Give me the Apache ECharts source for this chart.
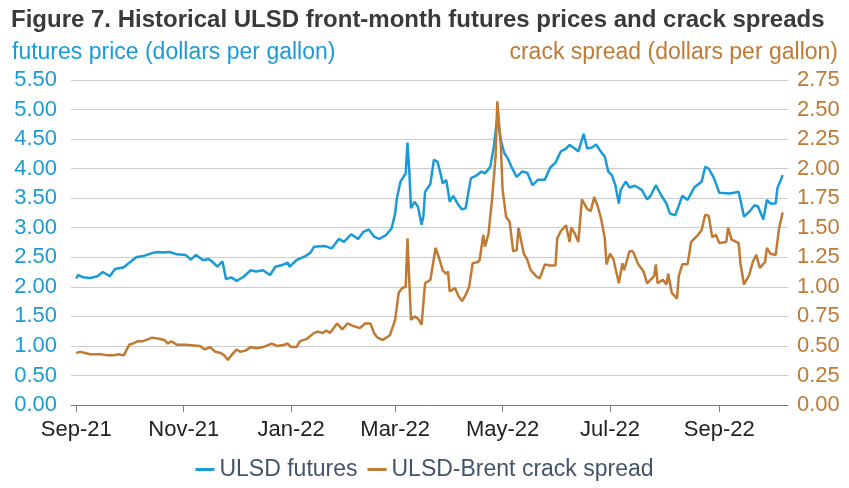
<!DOCTYPE html>
<html>
<head>
<meta charset="utf-8">
<title>ULSD futures and crack spreads</title>
<script src="https://cdn.jsdelivr.net/npm/echarts@6.0.0/dist/echarts.min.js"></script>
<style>
  html, body { margin: 0; padding: 0; background: #fff; }
  #chart { width: 849px; height: 488px; }
</style>
</head>
<body>
<div id="chart"></div>
<script>
/* global echarts */
const FONT = '"Liberation Sans", Arial, sans-serif';
const BLUE = '#1a9bd7';
const ORANGE = '#c07a33';

// tick labels on the date axis (first of every other month)
const tickDates = ['2021-09-01', '2021-11-01', '2022-01-01', '2022-03-01', '2022-05-01', '2022-07-01', '2022-09-01'];
const monthNames = ['Jan', 'Feb', 'Mar', 'Apr', 'May', 'Jun', 'Jul', 'Aug', 'Sep', 'Oct', 'Nov', 'Dec'];
const axisStart = '2021-08-29';
const axisEnd = '2022-10-10';

// ULSD front-month futures, dollars per gallon
const futuresDates = [
  '2021-09-01', '2021-09-02', '2021-09-05', '2021-09-09', '2021-09-13', '2021-09-16', '2021-09-20', '2021-09-23',
  '2021-09-28', '2021-10-02', '2021-10-05', '2021-10-09', '2021-10-14', '2021-10-17', '2021-10-20', '2021-10-24',
  '2021-10-28', '2021-11-02', '2021-11-05', '2021-11-08', '2021-11-12', '2021-11-15', '2021-11-17', '2021-11-20',
  '2021-11-23', '2021-11-25', '2021-11-28', '2021-12-01', '2021-12-05', '2021-12-09', '2021-12-12', '2021-12-16',
  '2021-12-20', '2021-12-23', '2021-12-27', '2021-12-30', '2021-12-31', '2022-01-04', '2022-01-09', '2022-01-12',
  '2022-01-14', '2022-01-20', '2022-01-24', '2022-01-28', '2022-01-31', '2022-02-04', '2022-02-08', '2022-02-11',
  '2022-02-14', '2022-02-17', '2022-02-20', '2022-02-24', '2022-02-27', '2022-03-01', '2022-03-02', '2022-03-04',
  '2022-03-07', '2022-03-08', '2022-03-09', '2022-03-10', '2022-03-12', '2022-03-14', '2022-03-16', '2022-03-17',
  '2022-03-18', '2022-03-21', '2022-03-23', '2022-03-25', '2022-03-27', '2022-03-28', '2022-03-30', '2022-04-01',
  '2022-04-03', '2022-04-06', '2022-04-08', '2022-04-10', '2022-04-13', '2022-04-16', '2022-04-19', '2022-04-21',
  '2022-04-24', '2022-04-26', '2022-04-28', '2022-04-30', '2022-05-02', '2022-05-04', '2022-05-06', '2022-05-09',
  '2022-05-12', '2022-05-15', '2022-05-18', '2022-05-21', '2022-05-25', '2022-05-28', '2022-05-31', '2022-06-03',
  '2022-06-06', '2022-06-08', '2022-06-11', '2022-06-13', '2022-06-16', '2022-06-18', '2022-06-21', '2022-06-23',
  '2022-06-25', '2022-06-28', '2022-06-30', '2022-07-02', '2022-07-04', '2022-07-06', '2022-07-07', '2022-07-10',
  '2022-07-12', '2022-07-15', '2022-07-19', '2022-07-22', '2022-07-24', '2022-07-27', '2022-07-30', '2022-08-02',
  '2022-08-04', '2022-08-07', '2022-08-11', '2022-08-14', '2022-08-18', '2022-08-22', '2022-08-24', '2022-08-26',
  '2022-08-29', '2022-09-01', '2022-09-07', '2022-09-08', '2022-09-12', '2022-09-15', '2022-09-18', '2022-09-21',
  '2022-09-23', '2022-09-26', '2022-09-28', '2022-09-30', '2022-10-03', '2022-10-04', '2022-10-07'
];
const futuresValues = [
  2.14, 2.20, 2.16, 2.15, 2.18, 2.25, 2.18, 2.30,
  2.33, 2.43, 2.50, 2.52, 2.57, 2.59, 2.58, 2.59,
  2.55, 2.54, 2.46, 2.54, 2.45, 2.47, 2.43, 2.34,
  2.43, 2.13, 2.16, 2.10, 2.17, 2.28, 2.26, 2.28,
  2.20, 2.34, 2.37, 2.41, 2.34, 2.45, 2.52, 2.58,
  2.68, 2.69, 2.65, 2.81, 2.76, 2.89, 2.81, 2.93,
  2.97, 2.85, 2.81, 2.88, 2.99, 3.24, 3.50, 3.78,
  3.92, 4.44, 3.98, 3.33, 3.44, 3.35, 3.05, 3.19,
  3.61, 3.74, 4.15, 4.12, 3.89, 3.75, 3.81, 3.44,
  3.54, 3.38, 3.31, 3.33, 3.84, 3.88, 3.95, 3.92,
  4.03, 4.37, 4.88, 4.48, 4.26, 4.17, 4.03, 3.86,
  3.95, 3.93, 3.72, 3.81, 3.81, 4.02, 4.10, 4.29,
  4.34, 4.40, 4.34, 4.29, 4.59, 4.34, 4.36, 4.41,
  4.32, 4.20, 3.95, 3.89, 3.72, 3.41, 3.64, 3.78,
  3.68, 3.71, 3.64, 3.48, 3.54, 3.72, 3.55, 3.41,
  3.24, 3.21, 3.54, 3.47, 3.69, 3.78, 4.03, 4.00,
  3.84, 3.59, 3.58, 3.61, 3.61, 3.19, 3.27, 3.38,
  3.36, 3.14, 3.47, 3.41, 3.41, 3.67, 3.89
];

// ULSD-Brent crack spread, dollars per gallon
const crackDates = [
  '2021-09-01', '2021-09-03', '2021-09-06', '2021-09-09', '2021-09-15', '2021-09-19', '2021-09-22', '2021-09-25',
  '2021-09-28', '2021-10-01', '2021-10-03', '2021-10-06', '2021-10-09', '2021-10-14', '2021-10-18', '2021-10-21',
  '2021-10-23', '2021-10-25', '2021-10-28', '2021-11-02', '2021-11-10', '2021-11-13', '2021-11-16', '2021-11-19',
  '2021-11-22', '2021-11-24', '2021-11-26', '2021-11-28', '2021-12-01', '2021-12-03', '2021-12-06', '2021-12-09',
  '2021-12-12', '2021-12-16', '2021-12-21', '2021-12-24', '2021-12-28', '2021-12-30', '2022-01-01', '2022-01-04',
  '2022-01-06', '2022-01-10', '2022-01-14', '2022-01-16', '2022-01-19', '2022-01-21', '2022-01-23', '2022-01-27',
  '2022-01-30', '2022-02-02', '2022-02-05', '2022-02-09', '2022-02-12', '2022-02-15', '2022-02-17', '2022-02-19',
  '2022-02-22', '2022-02-26', '2022-03-01', '2022-03-03', '2022-03-05', '2022-03-07', '2022-03-08', '2022-03-09',
  '2022-03-10', '2022-03-12', '2022-03-14', '2022-03-16', '2022-03-17', '2022-03-18', '2022-03-21', '2022-03-24',
  '2022-03-26', '2022-03-28', '2022-03-30', '2022-03-31', '2022-04-01', '2022-04-04', '2022-04-06', '2022-04-08',
  '2022-04-10', '2022-04-12', '2022-04-14', '2022-04-17', '2022-04-18', '2022-04-20', '2022-04-21', '2022-04-23',
  '2022-04-25', '2022-04-27', '2022-04-28', '2022-04-30', '2022-05-01', '2022-05-03', '2022-05-05', '2022-05-07',
  '2022-05-09', '2022-05-10', '2022-05-13', '2022-05-15', '2022-05-17', '2022-05-20', '2022-05-22', '2022-05-25',
  '2022-05-28', '2022-05-31', '2022-06-01', '2022-06-03', '2022-06-06', '2022-06-08', '2022-06-09', '2022-06-11',
  '2022-06-13', '2022-06-15', '2022-06-18', '2022-06-20', '2022-06-22', '2022-06-24', '2022-06-26', '2022-06-28',
  '2022-06-29', '2022-07-01', '2022-07-03', '2022-07-04', '2022-07-06', '2022-07-08', '2022-07-09', '2022-07-12',
  '2022-07-14', '2022-07-17', '2022-07-20', '2022-07-22', '2022-07-23', '2022-07-26', '2022-07-27', '2022-07-28',
  '2022-07-31', '2022-08-02', '2022-08-03', '2022-08-05', '2022-08-08', '2022-08-09', '2022-08-11', '2022-08-14',
  '2022-08-16', '2022-08-18', '2022-08-20', '2022-08-22', '2022-08-24', '2022-08-26', '2022-08-28', '2022-08-30',
  '2022-09-01', '2022-09-05', '2022-09-06', '2022-09-08', '2022-09-12', '2022-09-13', '2022-09-15', '2022-09-18',
  '2022-09-20', '2022-09-22', '2022-09-24', '2022-09-27', '2022-09-28', '2022-09-30', '2022-10-03', '2022-10-05',
  '2022-10-07'
];
const crackValues = [
  0.44, 0.45, 0.44, 0.43, 0.43, 0.42, 0.42, 0.43,
  0.42, 0.51, 0.52, 0.54, 0.54, 0.57, 0.56, 0.55,
  0.52, 0.54, 0.51, 0.51, 0.50, 0.47, 0.49, 0.45,
  0.44, 0.42, 0.38, 0.42, 0.47, 0.45, 0.46, 0.49,
  0.48, 0.49, 0.52, 0.50, 0.51, 0.52, 0.49, 0.49,
  0.54, 0.56, 0.61, 0.62, 0.61, 0.63, 0.61, 0.69,
  0.64, 0.69, 0.67, 0.65, 0.69, 0.69, 0.61, 0.57,
  0.55, 0.59, 0.72, 0.95, 0.99, 1.00, 1.41, 1.06,
  0.72, 0.75, 0.73, 0.68, 0.86, 1.03, 1.06, 1.33,
  1.24, 1.14, 1.11, 1.13, 0.96, 0.99, 0.92, 0.88,
  0.93, 1.00, 1.20, 1.21, 1.23, 1.44, 1.34, 1.45,
  1.74, 2.10, 2.57, 2.19, 1.82, 1.59, 1.55, 1.30,
  1.31, 1.50, 1.28, 1.23, 1.14, 1.09, 1.07, 1.19,
  1.18, 1.18, 1.41, 1.47, 1.52, 1.38, 1.50, 1.45,
  1.38, 1.74, 1.66, 1.64, 1.76, 1.68, 1.57, 1.41,
  1.19, 1.28, 1.23, 1.16, 1.03, 1.20, 1.14, 1.30,
  1.30, 1.19, 1.13, 1.03, 1.03, 1.09, 1.19, 1.03,
  1.06, 1.02, 1.11, 0.95, 0.90, 1.09, 1.19, 1.19,
  1.38, 1.41, 1.44, 1.48, 1.61, 1.60, 1.42, 1.44,
  1.37, 1.38, 1.50, 1.40, 1.37, 1.20, 1.02, 1.10,
  1.21, 1.27, 1.16, 1.21, 1.33, 1.28, 1.27, 1.50,
  1.63
];

function toTime(s) {
  return new Date(s + 'T00:00:00Z').getTime();
}

function pairs(dates, values) {
  return dates.map((d, i) => [toTime(d), values[i]]);
}

function monthLabel(val) {
  const d = new Date(val);
  return monthNames[d.getUTCMonth()] + '-' + String(d.getUTCFullYear()).slice(2);
}

const tickTimes = tickDates.map(toTime);

const chart = echarts.init(document.getElementById('chart'), null, { renderer: 'canvas' });

chart.setOption({
  animation: false,
  textStyle: { fontFamily: FONT },
  title: [
    {
      text: 'Figure 7. Historical ULSD front-month futures prices and crack spreads',
      left: 11, top: 8, padding: 0,
      textStyle: { fontFamily: FONT, fontSize: 24, fontWeight: 'bold', color: '#3a3a3a' }
    },
    {
      text: 'futures price (dollars per gallon)',
      left: 12, top: 41, padding: 0,
      textStyle: { fontFamily: FONT, fontSize: 23, fontWeight: 'normal', color: BLUE }
    },
    {
      text: 'crack spread (dollars per gallon)',
      right: 11, top: 41, padding: 0,
      textStyle: { fontFamily: FONT, fontSize: 23, fontWeight: 'normal', color: ORANGE }
    }
  ],
  legend: {
    bottom: 2,
    left: 'center',
    icon: 'rect',
    itemWidth: 19,
    itemHeight: 3,
    itemGap: 10,
    textStyle: { fontFamily: FONT, fontSize: 23, color: '#44546a' },
    data: ['ULSD futures', 'ULSD-Brent crack spread']
  },
  grid: { left: 71, right: 61, top: 80, bottom: 83, containLabel: false },
  xAxis: {
    type: 'value',
    min: toTime(axisStart),
    max: toTime(axisEnd),
    axisLine: { lineStyle: { color: '#7a7a7a', width: 1 } },
    axisTick: {
      show: true, inside: false, length: 7,
      customValues: tickTimes,
      lineStyle: { color: '#7a7a7a' }
    },
    axisLabel: {
      customValues: tickTimes,
      formatter: monthLabel,
      color: '#222',
      fontFamily: FONT,
      fontSize: 22,
      margin: 14,
      showMinLabel: true,
      showMaxLabel: true
    },
    splitLine: { show: false }
  },
  yAxis: [
    {
      type: 'value',
      min: 0, max: 5.5, interval: 0.5,
      axisLine: { show: false },
      axisTick: { show: false },
      axisLabel: {
        color: BLUE, fontFamily: FONT, fontSize: 22, margin: 14,
        formatter: v => v.toFixed(2)
      },
      splitLine: { lineStyle: { color: '#cccccc', width: 1 } }
    },
    {
      type: 'value',
      min: 0, max: 2.75, interval: 0.25,
      axisLine: { show: false },
      axisTick: { show: false },
      axisLabel: {
        color: ORANGE, fontFamily: FONT, fontSize: 22, margin: 9,
        formatter: v => v.toFixed(2)
      },
      splitLine: { show: false }
    }
  ],
  series: [
    {
      name: 'ULSD futures',
      type: 'line',
      yAxisIndex: 0,
      showSymbol: false,
      color: BLUE,
      lineStyle: { width: 2.5, color: BLUE },
      data: pairs(futuresDates, futuresValues)
    },
    {
      name: 'ULSD-Brent crack spread',
      type: 'line',
      yAxisIndex: 1,
      showSymbol: false,
      color: ORANGE,
      lineStyle: { width: 2.5, color: ORANGE },
      data: pairs(crackDates, crackValues)
    }
  ]
});
</script>
</body>
</html>
